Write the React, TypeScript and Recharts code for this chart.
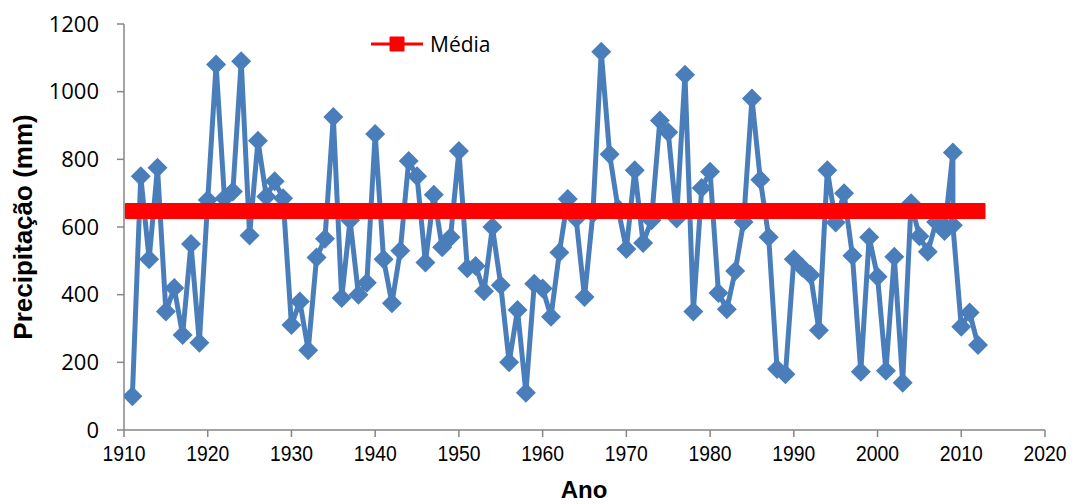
import React from 'react';
import { LineChart, Line, XAxis, YAxis, Label } from 'recharts';

const anos = [
  1911, 1912, 1913, 1914, 1915, 1916, 1917, 1918, 1919, 1920,
  1921, 1922, 1923, 1924, 1925, 1926, 1927, 1928, 1929, 1930,
  1931, 1932, 1933, 1934, 1935, 1936, 1937, 1938, 1939, 1940,
  1941, 1942, 1943, 1944, 1945, 1946, 1947, 1948, 1949, 1950,
  1951, 1952, 1953, 1954, 1955, 1956, 1957, 1958, 1959, 1960,
  1961, 1962, 1963, 1964, 1965, 1966, 1967, 1968, 1969, 1970,
  1971, 1972, 1973, 1974, 1975, 1976, 1977, 1978, 1979, 1980,
  1981, 1982, 1983, 1984, 1985, 1986, 1987, 1988, 1989, 1990,
  1991, 1992, 1993, 1994, 1995, 1996, 1997, 1998, 1999, 2000,
  2001, 2002, 2003, 2004, 2005, 2006, 2007, 2008, 2009, 2009,
  2010, 2011, 2012,
];

const precipitacao = [
  100, 750, 505, 775, 350, 420, 281, 550, 258, 680,
  1080, 685, 705, 1090, 575, 855, 690, 735, 685, 310,
  380, 236, 510, 565, 925, 390, 620, 400, 435, 875,
  505, 375, 530, 795, 750, 495, 695, 540, 570, 825,
  478, 485, 410, 600, 428, 200, 355, 110, 432, 418,
  335, 525, 683, 625, 393, 640, 1118, 815, 655, 535,
  768, 553, 620, 915, 880, 625, 1050, 350, 715, 763,
  405, 357, 470, 615, 980, 740, 570, 180, 165, 505,
  480, 458, 295, 768, 613, 700, 515, 172, 570, 453,
  175, 512, 140, 670, 573, 527, 615, 588, 820, 605,
  305, 347, 251,
];

const mediaValor = 647;
const xTicks = [1910, 1920, 1930, 1940, 1950, 1960, 1970, 1980, 1990, 2000, 2010, 2020];
const yTicks = [0, 200, 400, 600, 800, 1000, 1200];

const precipData = anos.map((ano, i) => ({ ano, valor: precipitacao[i] }));
const mediaAnos = anos.filter((a, i) => anos.indexOf(a) === i);
const mediaData = mediaAnos.map((ano) => ({ ano, media: mediaValor }));

const AXIS = '#868686';
const BLUE = '#4a7ebb';
const RED = '#ff0000';

const Diamond = (props: any) => {
  const { cx, cy, index } = props;
  const r = 10;
  return (
    <path
      key={`d-${index}`}
      d={`M${cx},${cy - r}L${cx + r},${cy}L${cx},${cy + r}L${cx - r},${cy}Z`}
      fill={BLUE}
    />
  );
};

const Square = (props: any) => {
  const { cx, cy, index } = props;
  return <rect key={`s-${index}`} x={cx - 7.5} y={cy - 8} width={15} height={16} rx={1} fill={RED} />;
};

const XTick = (props: any) => {
  const { x, payload } = props;
  return (
    <text
      x={x}
      y={461}
      textAnchor="middle"
      fontFamily="'Liberation Sans', Arial, sans-serif"
      fontSize={22}
      textLength={43}
      lengthAdjust="spacingAndGlyphs"
      fill="#000"
    >
      {payload.value}
    </text>
  );
};

export default function App() {
  return (
    <div style={{ position: 'absolute', left: 0, top: 0, width: 1081, height: 504, background: '#fff' }}>
      <LineChart
        width={1081}
        height={504}
        margin={{ top: 24, right: 36, bottom: 0, left: 0 }}
      >
        <XAxis
          dataKey="ano"
          type="number"
          domain={[1910, 2020]}
          ticks={xTicks}
          allowDataOverflow
          height={74}
          axisLine={{ stroke: AXIS, strokeWidth: 1.5 }}
          tickLine={{ stroke: AXIS, strokeWidth: 1.5 }}
          tickSize={7}
          tick={<XTick />}
          interval={0}
        >
          <Label
            content={() => (
              <text
                x={584}
                y={498}
                textAnchor="middle"
                fontFamily="'Liberation Sans', Arial, sans-serif"
                fontWeight="bold"
                fontSize={24}
                fill="#000"
              >
                Ano
              </text>
            )}
          />
        </XAxis>
        <YAxis
          type="number"
          domain={[0, 1200]}
          ticks={yTicks}
          width={124}
          axisLine={{ stroke: AXIS, strokeWidth: 1.5 }}
          tickLine={{ stroke: AXIS, strokeWidth: 1.5 }}
          tickSize={7}
          tickMargin={18}
          tick={{ fill: '#000', fontSize: 22, fontFamily: "'Open Sans', sans-serif" }}
          interval={0}
        >
          <Label
            content={() => (
              <text
                x={32}
                y={227}
                transform="rotate(-90 32 227)"
                textAnchor="middle"
                fontFamily="'Liberation Sans', Arial, sans-serif"
                fontWeight="bold"
                fontSize={26}
                fill="#000"
              >
                Precipitação (mm)
              </text>
            )}
          />
        </YAxis>
        <Line
          data={precipData}
          dataKey="valor"
          stroke={BLUE}
          strokeWidth={5}
          dot={<Diamond />}
          activeDot={false}
          isAnimationActive={false}
          strokeLinejoin="miter"
        />
        <Line
          data={mediaData}
          dataKey="media"
          name="Média"
          stroke={RED}
          strokeWidth={3}
          dot={<Square />}
          activeDot={false}
          isAnimationActive={false}
        />
      </LineChart>
      <div
        style={{
          position: 'absolute',
          left: 371,
          top: 30,
          display: 'flex',
          alignItems: 'center',
          fontFamily: "'Open Sans', sans-serif",
          fontSize: 21,
          color: '#000',
          lineHeight: '28px',
        }}
      >
        <svg width={54} height={28} style={{ display: 'block' }}>
          <line x1={0} y1={14} x2={52} y2={14} stroke={RED} strokeWidth={3} />
          <rect x={18.5} y={6.5} width={15} height={15} rx={1} fill={RED} />
        </svg>
        <span style={{ marginLeft: 5 }}>Média</span>
      </div>
    </div>
  );
}
